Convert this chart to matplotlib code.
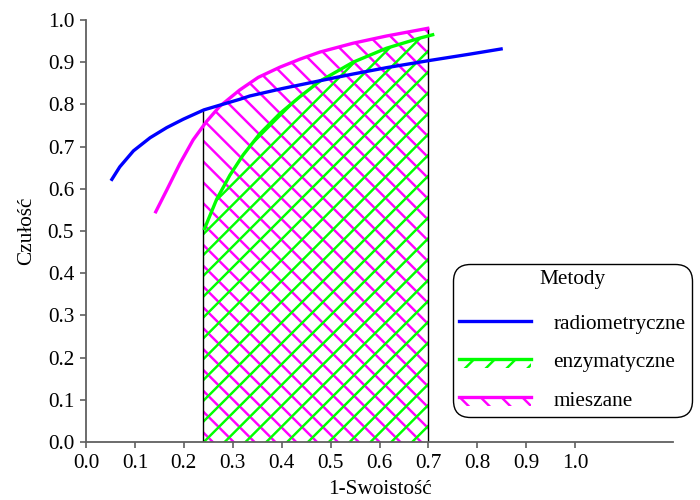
import matplotlib
matplotlib.use("Agg")
import matplotlib.pyplot as plt
import matplotlib.patches as mpatches
from matplotlib.lines import Line2D

plt.rcParams['font.family'] = ['Liberation Serif', 'DejaVu Serif']
plt.rcParams['hatch.linewidth'] = 1.4

# curves (x = 1-Swoistość, y = Czułość)
radio_x = [0.051, 0.069, 0.097, 0.131, 0.165, 0.199, 0.241, 0.273, 0.314, 0.335,
           0.403, 0.478, 0.546, 0.614, 0.702, 0.784, 0.852]
radio_y = [0.619, 0.652, 0.690, 0.721, 0.745, 0.765, 0.787, 0.798, 0.812, 0.820,
           0.838, 0.856, 0.872, 0.887, 0.904, 0.919, 0.932]

enz_x = [0.241, 0.267, 0.294, 0.321, 0.355, 0.396, 0.437, 0.478, 0.546, 0.614, 0.682, 0.712]
enz_y = [0.502, 0.575, 0.632, 0.680, 0.730, 0.778, 0.818, 0.855, 0.900, 0.933, 0.957, 0.966]

mix_x = [0.141, 0.165, 0.192, 0.219, 0.246, 0.273, 0.314, 0.352, 0.396, 0.437,
         0.478, 0.546, 0.614, 0.702]
mix_y = [0.542, 0.597, 0.660, 0.716, 0.759, 0.795, 0.834, 0.864, 0.888, 0.907,
         0.924, 0.945, 0.962, 0.981]

# shaded range
x_lo, x_hi = 0.24, 0.70
left_top, right_top = 0.787, 0.981

labels = ["radiometryczne", "enzymatyczne", "mieszane"]
colors = ["#0000ff", "#00ff00", "#ff00ff"]

DPI = 125
PT = 100 / DPI  # sizes below are given as if at 100 dpi


class HatchLineHandler:
    def legend_artist(self, legend, orig_handle, fontsize, handlebox):
        x0, y0 = handlebox.xdescent, handlebox.ydescent
        w, h = handlebox.width, handlebox.height
        color = orig_handle.get_edgecolor()
        ytop = y0 + 0.55 * h
        tr = handlebox.get_transform()
        rect = mpatches.Rectangle((x0, ytop - 0.6 * h), w, 0.6 * h,
                                  facecolor='none', edgecolor=color,
                                  hatch=orig_handle.get_hatch(), linewidth=0,
                                  transform=tr)
        line = Line2D([x0, x0 + w], [ytop, ytop], color=color,
                      lw=2.4 * PT, transform=tr)
        handlebox.add_artist(rect)
        handlebox.add_artist(line)
        return rect


def main():
    fig = plt.figure(figsize=(700 / DPI, 500 / DPI), dpi=DPI)
    ax = fig.add_axes([0.1229, 0.116, 0.8385, 0.844])

    clip = mpatches.Rectangle((x_lo, 0), x_hi - x_lo, 1.0, transform=ax.transData,
                              facecolor='none', edgecolor='none')
    ax.add_patch(clip)
    f1 = ax.fill_between(mix_x, 0, mix_y, facecolor='none', edgecolor=colors[2],
                         hatch='\\\\', linewidth=0)
    f2 = ax.fill_between(enz_x, 0, enz_y, facecolor='none', edgecolor=colors[1],
                         hatch='//', linewidth=0)
    f1.set_clip_path(clip)
    f2.set_clip_path(clip)
    ax.vlines([x_lo, x_hi], 0, [left_top, right_top], color='black', lw=1.0 * PT)

    ax.plot(mix_x, mix_y, color=colors[2], lw=2.4 * PT, solid_capstyle='butt')
    ax.plot(enz_x, enz_y, color=colors[1], lw=2.4 * PT, solid_capstyle='butt')
    ax.plot(radio_x, radio_y, color=colors[0], lw=2.4 * PT, solid_capstyle='butt')

    ax.set_xlim(0, 1.2)
    ax.set_ylim(0, 1.0)
    ax.set_xticks([i / 10 for i in range(11)])
    ax.set_yticks([i / 10 for i in range(11)])
    ax.xaxis.set_major_formatter(lambda v, p: f"{v:.1f}")
    ax.yaxis.set_major_formatter(lambda v, p: f"{v:.1f}")
    ax.tick_params(labelsize=15.3 * PT, length=4.5 * PT, color='#606060',
                   width=1.2 * PT, pad=4.0 * PT)
    for s in ['top', 'right']:
        ax.spines[s].set_visible(False)
    for s in ['left', 'bottom']:
        ax.spines[s].set_color('#606060')
        ax.spines[s].set_linewidth(1.3 * PT)
    ax.set_xlabel("1-Swoistość", fontsize=15.3 * PT, labelpad=5.0 * PT)
    ax.set_ylabel("Czułość", fontsize=15.3 * PT, labelpad=8 * PT)

    h_radio = Line2D([], [], color=colors[0], lw=2.4 * PT)
    h_enz = mpatches.Patch(facecolor='none', edgecolor=colors[1], hatch='//')
    h_mix = mpatches.Patch(facecolor='none', edgecolor=colors[2], hatch='\\\\')
    leg = fig.legend([h_radio, h_enz, h_mix], labels, title="Metody",
                     loc='lower right', bbox_to_anchor=(692 / 700, 83 / 500),
                     bbox_transform=fig.transFigure, borderaxespad=0,
                     fontsize=15.3 * PT, title_fontsize=15.3 * PT, handlelength=3.4,
                     handletextpad=1.05, labelspacing=0.87, borderpad=0.3,
                     fancybox=True, framealpha=1, edgecolor='black',
                     handler_map={mpatches.Patch: HatchLineHandler()})
    leg.get_frame().set_linewidth(1.0 * PT)
    leg.get_frame().set_boxstyle('round', pad=0, rounding_size=0.8)
    leg._legend_box.sep = 18 * PT

    fig.savefig("out.png", dpi=DPI)


if __name__ == "__main__":
    main()
